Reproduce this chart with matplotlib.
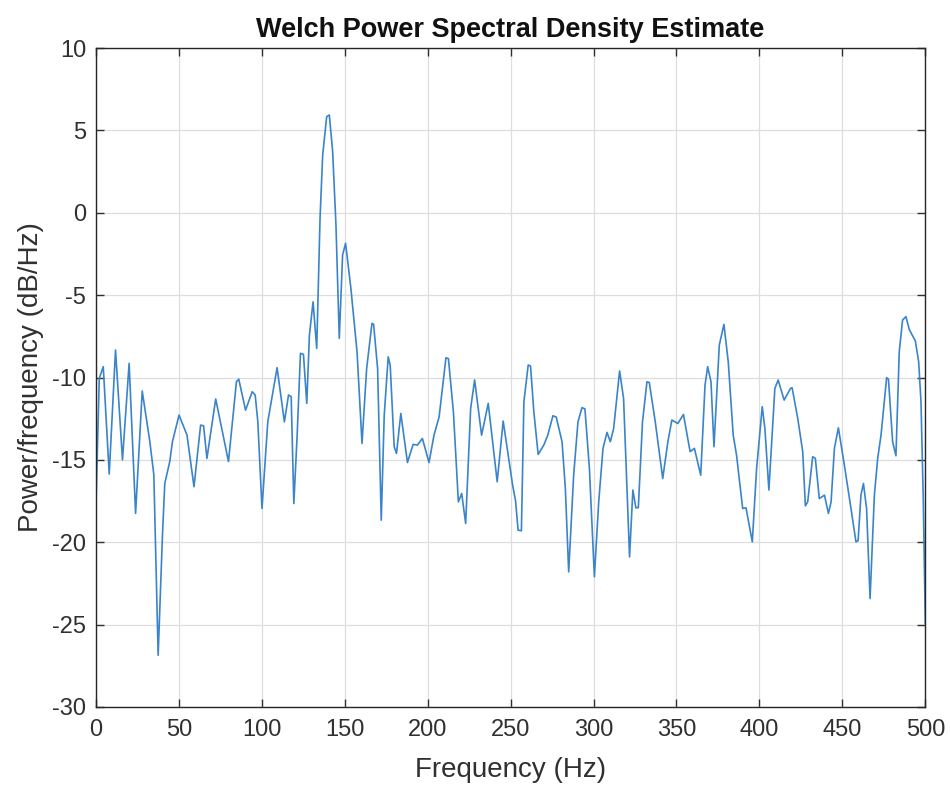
import numpy as np
import matplotlib
matplotlib.use("Agg")
import matplotlib.pyplot as plt

# frequency (Hz) and PSD (dB/Hz)
freq = [0.0, 2.0, 4.4, 8.0, 11.8, 16.0, 20.0, 23.9, 27.9, 32.5,
        34.9, 37.5, 40.1, 41.5, 44.5, 46.1, 50.1, 54.9, 59.1, 63.1,
        64.9, 66.9, 72.2, 79.9, 84.7, 86.1, 90.2, 94.2, 96.0, 97.6,
        100.1, 103.6, 109.2, 113.6, 116.1, 117.7, 119.3, 121.3, 123.3, 125.1,
        127.1, 128.7, 130.9, 133.1, 135.1, 136.7, 139.1, 140.7, 142.7, 144.7,
        146.7, 148.7, 150.5, 153.7, 157.4, 160.4, 163.2, 166.4, 167.4, 169.8,
        172.0, 173.8, 176.2, 177.4, 179.8, 181.2, 183.8, 187.8, 191.2, 193.8,
        196.8, 200.8, 203.8, 206.9, 211.0, 212.5, 215.5, 218.5, 220.5, 222.9,
        225.9, 228.3, 232.5, 236.5, 241.9, 245.5, 251.2, 253.0, 254.5, 256.5,
        258.0, 260.6, 262.0, 264.0, 266.6, 270.0, 272.4, 275.5, 277.5, 281.0,
        283.0, 285.0, 288.0, 290.6, 293.0, 294.8, 297.5, 300.5, 303.1, 305.7,
        308.1, 310.1, 312.1, 315.7, 318.1, 321.7, 323.7, 325.5, 327.0, 329.5,
        332.2, 333.6, 337.2, 341.7, 344.8, 347.2, 350.8, 354.2, 358.2, 360.8,
        364.6, 367.2, 368.8, 370.8, 372.6, 375.8, 378.6, 381.2, 384.2, 386.2,
        389.9, 391.9, 395.7, 398.3, 401.7, 403.3, 405.7, 409.3, 411.3, 414.9,
        418.7, 419.7, 423.1, 426.1, 427.7, 429.1, 432.1, 433.7, 436.1, 439.2,
        441.6, 443.2, 445.2, 447.6, 451.2, 455.2, 458.2, 459.5, 461.2, 462.7,
        464.6, 466.7, 469.3, 471.3, 473.3, 476.7, 477.8, 480.3, 482.3, 484.3,
        486.3, 488.3, 490.4, 494.0, 496.0, 497.4, 498.8, 500.0]

psd = [-17.75, -10.05, -9.34, -15.86, -8.33, -15.0, -9.14, -18.25, -10.82, -13.9,
       -15.9, -26.86, -19.57, -16.43, -15.1, -13.9, -12.28, -13.5, -16.63, -12.89,
       -12.93, -14.91, -11.3, -15.1, -10.25, -10.1, -11.98, -10.86, -11.06, -12.69,
       -17.95, -12.69, -9.4, -12.69, -11.06, -11.16, -17.65, -13.5, -8.53, -8.59,
       -11.57, -7.42, -5.4, -8.23, -0.33, 3.52, 5.84, 5.94, 3.72, -0.74,
       -7.62, -2.56, -1.85, -4.59, -8.43, -14.0, -9.45, -6.71, -6.77, -9.45,
       -18.66, -12.28, -8.74, -9.25, -14.2, -14.61, -12.18, -15.16, -14.06, -14.1,
       -13.7, -15.16, -13.5, -12.38, -8.8, -8.85, -12.08, -17.55, -17.04, -18.86,
       -11.88, -10.15, -13.5, -11.57, -16.33, -12.64, -16.53, -17.5, -19.27, -19.3,
       -11.47, -9.24, -9.3, -12.08, -14.67, -14.1, -13.5, -12.32, -12.4, -13.9,
       -16.74, -21.8, -15.93, -12.69, -11.83, -11.9, -15.52, -22.1, -17.55, -14.3,
       -13.33, -13.9, -13.1, -9.6, -11.28, -20.89, -16.83, -17.91, -17.9, -12.69,
       -10.26, -10.3, -12.69, -16.13, -13.9, -12.58, -12.79, -12.24, -14.5, -14.3,
       -15.93, -10.46, -9.34, -10.26, -14.2, -8.03, -6.77, -9.04, -13.5, -14.71,
       -17.95, -17.91, -19.98, -15.52, -11.77, -13.1, -16.83, -10.66, -10.15, -11.37,
       -10.66, -10.62, -12.48, -14.5, -17.79, -17.55, -14.81, -14.9, -17.35, -17.14,
       -18.25, -17.55, -14.3, -13.05, -15.32, -17.95, -19.98, -19.9, -17.14, -16.43,
       -17.95, -23.42, -17.14, -14.91, -13.5, -10.01, -10.1, -13.9, -14.75, -8.43,
       -6.51, -6.3, -7.1, -7.78, -9.04, -11.47, -17.5, -24.94]

x_ticks = list(range(0, 501, 50))
y_ticks = list(range(-30, 11, 5))

plt.rcParams['font.family'] = ['Liberation Sans', 'DejaVu Sans']
plt.rcParams['axes.unicode_minus'] = False

fig = plt.figure(figsize=(9.5, 7.89), dpi=100)
ax = fig.add_axes([0.101, 0.104, 0.873, 0.835])

ax.plot(freq, psd, color='#3a84cb', lw=1.2)

ax.set_xlim(0, 500)
ax.set_ylim(-30, 10)
ax.set_xticks(x_ticks)
ax.set_yticks(y_ticks)
ax.grid(True, color='#dedede', lw=0.9)
ax.set_axisbelow(True)

ax.tick_params(direction='in', top=True, right=True, length=6, width=1,
               labelsize=17, colors='#303030')
ax.tick_params(axis='x', pad=9)
ax.tick_params(axis='y', pad=7)
for s in ax.spines.values():
    s.set_color('#262626')
    s.set_linewidth(1.0)

ax.set_xlabel('Frequency (Hz)', fontsize=20, color='#303030', labelpad=11)
ax.set_ylabel('Power/frequency (dB/Hz)', fontsize=20, color='#303030', labelpad=6)
ax.set_title('Welch Power Spectral Density Estimate', fontsize=19.5,
             fontweight='bold', color='#111111', pad=8)

fig.savefig('out.png', dpi=100)
